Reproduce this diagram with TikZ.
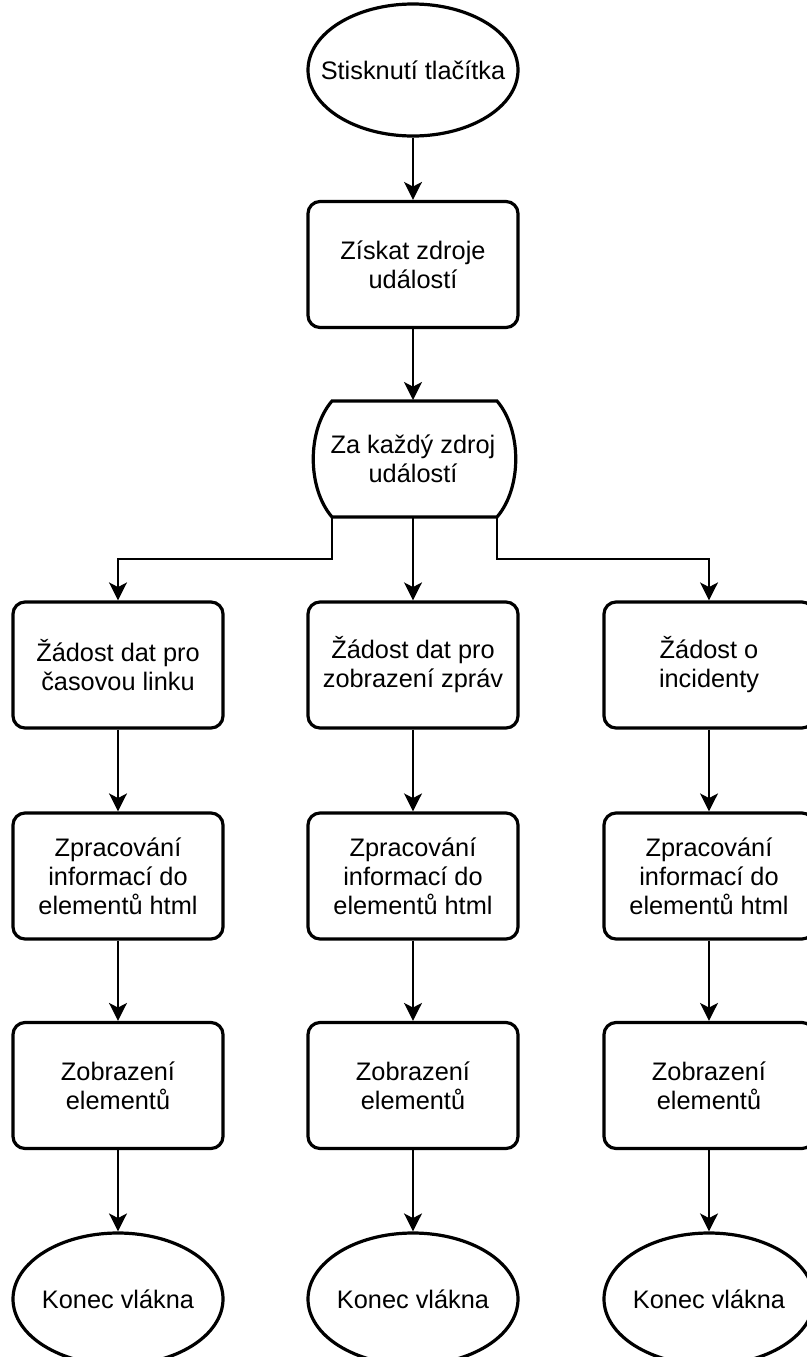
\documentclass[tikz,border=0pt]{standalone}
\usepackage{fontspec}
\setmainfont{Liberation Sans}
\usetikzlibrary{shapes.geometric,arrows.meta}

\begin{document}
\begin{tikzpicture}[x=0.75pt,y=0.75pt,yscale=-1,xscale=1,
    every node/.style={font=\fontsize{19}{21.75}\selectfont},
    proc/.style={draw, line width=2.4pt, rounded corners=9pt, fill=white, align=center,
        minimum width=157.5pt, minimum height=94.5pt, inner sep=2pt},
    term/.style={draw, ellipse, line width=2.4pt, fill=white,
        minimum width=157.5pt, minimum height=99pt, inner xsep=-16pt},
    flow/.style={line width=1.2pt, -{Stealth[length=13.5pt,width=13.5pt,inset=3.5pt]}}]
    %set diagram to the size of the page
    \useasboundingbox (0,0) rectangle (807,1357);

    %Terminator: start
    \node [term] (start) at (413,70) {Stisknutí tlačítka};
    %Process
    \node [proc] (get) at (413,264.5) {Získat zdroje\\událostí};

    %Loop limit
    \coordinate (ltop) at (413,400) ;
    \coordinate (ltl) at (332,401) ;
    \coordinate (ltr) at (497,401) ;
    \coordinate (lbl) at (332,517) ;
    \coordinate (lbm) at (413,517) ;
    \coordinate (lbr) at (497,517) ;
    \draw [line width=2.4pt, fill=white] (ltl) -- (ltr) .. controls (522,430) and (522,488) .. (lbr) -- (lbl) .. controls (307,488) and (307,430) .. (ltl) -- cycle ;
    \node [align=center] (each) at (413,459) {Za každý zdroj\\událostí};

    %Requests
    \node [proc] (reqT) at (118,665) {Žádost dat pro\\časovou linku};
    \node [proc] (reqZ) at (413,665) {Žádost dat pro\\zobrazení zpráv};
    \node [proc] (reqI) at (709,665) {Žádost o\\incidenty};

    %Flowlines
    \draw [flow] (start) -- (get) ;
    \draw [flow] (get) -- (ltop) ;
    \draw [flow] (lbl) -- ++(0,42) -| (reqT.north) ;
    \draw [flow] (lbm) -- (reqZ) ;
    \draw [flow] (lbr) -- ++(0,42) -| (reqI.north) ;

    %Three threads
    \foreach \c/\x in {T/118, Z/413, I/709} {
        \node [proc] (work\c) at (\x,876) {Zpracování\\informací do\\elementů html};
        \node [proc] (show\c) at (\x,1085.5) {Zobrazení\\elementů};
        \node [term] (end\c) at (\x,1299) {Konec vlákna};
        \draw [flow] (req\c) -- (work\c) ;
        \draw [flow] (work\c) -- (show\c) ;
        \draw [flow] (show\c) -- (end\c) ;
    }
\end{tikzpicture}
\end{document}
